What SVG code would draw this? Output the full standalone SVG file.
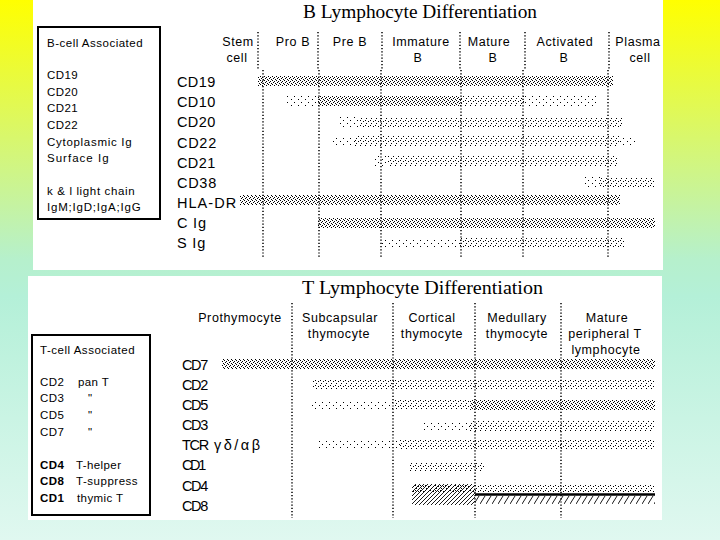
<svg xmlns="http://www.w3.org/2000/svg" width="720" height="540" viewBox="0 0 720 540">
<defs>
<linearGradient id="bg" x1="0" y1="0" x2="0" y2="1">
<stop offset="0" stop-color="#ffff00"/>
<stop offset="0.48" stop-color="#b6f0cc"/>
<stop offset="0.55" stop-color="#b4f0d8"/>
<stop offset="1" stop-color="#e0f8f0"/>
</linearGradient>
<pattern id="dense" width="4" height="4" patternUnits="userSpaceOnUse">
<rect x="0" y="0" width="1" height="1"/><rect x="2" y="1" width="1" height="1"/><rect x="1" y="2" width="1" height="1"/><rect x="3" y="3" width="1" height="1"/>
</pattern>
<pattern id="medium" width="5" height="5" patternUnits="userSpaceOnUse">
<rect x="0" y="0" width="1" height="1"/><rect x="3" y="1" width="1" height="1"/><rect x="1" y="3" width="1" height="1"/>
</pattern>
<pattern id="sparse" width="7" height="6" patternUnits="userSpaceOnUse">
<rect x="0" y="0" width="1" height="1"/><rect x="4" y="3" width="1" height="1"/>
</pattern>
<pattern id="hatch" width="4" height="4" patternUnits="userSpaceOnUse">
<path d="M0,4 L4,0" stroke="#000" stroke-width="0.9"/>
</pattern>
<pattern id="ticks" width="6" height="8" patternUnits="userSpaceOnUse">
<path d="M0,8 L5,0" stroke="#000" stroke-width="0.9"/>
</pattern>
<style>
.title{font-family:"Liberation Serif","Times New Roman",serif;font-size:18px;fill:#000}
.hd{font-family:"Liberation Sans",Arial,sans-serif;font-size:12.5px;letter-spacing:0.6px;fill:#000;text-anchor:middle}
.row{font-family:"Liberation Sans",Arial,sans-serif;font-size:14.5px;letter-spacing:0.8px;fill:#000}
.greek{letter-spacing:2.5px}
.lg{font-family:"Liberation Sans",Arial,sans-serif;font-size:11.5px;letter-spacing:0.4px;fill:#000}
.lgb{font-family:"Liberation Sans",Arial,sans-serif;font-size:11.5px;letter-spacing:0.4px;fill:#000;font-weight:bold}
.box{fill:#fff;stroke:#000;stroke-width:2}
.div{stroke:#000;stroke-width:1.5;stroke-dasharray:1.2 2;fill:none}
.d{fill:url(#dense)}
.m{fill:url(#medium)}
.s{fill:url(#sparse)}
</style>
</defs>

<rect id="background" x="0" y="0" width="720" height="540" fill="url(#bg)"/>

<g id="b-panel">
<rect x="33" y="0" width="630" height="270" fill="#fff"/>
<text class="title" x="303" y="18" textLength="234" lengthAdjust="spacingAndGlyphs">B Lymphocyte Differentiation</text>

<g id="b-legend">
<rect class="box" x="38" y="27" width="122" height="192"/>
<text class="lg" x="47" y="47" textLength="96">B-cell Associated</text>
<text class="lg" x="47" y="79">CD19</text>
<text class="lg" x="47" y="96">CD20</text>
<text class="lg" x="47" y="112">CD21</text>
<text class="lg" x="47" y="129">CD22</text>
<text class="lg" x="47" y="146" textLength="85">Cytoplasmic Ig</text>
<text class="lg" x="47" y="162" textLength="62">Surface Ig</text>
<text class="lg" x="47" y="195" textLength="88">k &amp; l light chain</text>
<text class="lg" x="47" y="211" textLength="94">IgM;IgD;IgA;IgG</text>
</g>

<g id="b-headers">
<text class="hd" x="238" y="46">Stem</text>
<text class="hd" x="237" y="62">cell</text>
<text class="hd" x="293" y="46">Pro B</text>
<text class="hd" x="350" y="46">Pre B</text>
<text class="hd" x="421" y="46">Immature</text>
<text class="hd" x="418" y="62">B</text>
<text class="hd" x="489" y="46">Mature</text>
<text class="hd" x="493" y="62">B</text>
<text class="hd" x="565" y="46">Activated</text>
<text class="hd" x="564" y="62">B</text>
<text class="hd" x="638" y="46">Plasma</text>
<text class="hd" x="640" y="62">cell</text>
</g>

<g id="b-rows">
<text class="row" x="177" y="87" textLength="39">CD19</text>
<text class="row" x="177" y="107" textLength="39">CD10</text>
<text class="row" x="177" y="127" textLength="39">CD20</text>
<text class="row" x="177" y="148" textLength="40">CD22</text>
<text class="row" x="177" y="168" textLength="39">CD21</text>
<text class="row" x="177" y="188" textLength="40">CD38</text>
<text class="row" x="177" y="208" textLength="60">HLA-DR</text>
<text class="row" x="177" y="228">C Ig</text>
<text class="row" x="177" y="248">S Ig</text>
</g>

<g id="b-dividers">
<path class="div" d="M258,32 V70 M318,32 V70 M382,32 V70 M460,32 V70 M525,32 V70 M609,32 V70"/>
<path class="div" d="M263,70 V258 M319,70 V258 M381,70 V258 M461,70 V258 M523,70 V258 M608,70 V258"/>
</g>

<g id="b-bands">
<rect class="d" x="258" y="76" width="355" height="10"/>
<rect class="s" x="287" y="96" width="31" height="10"/>
<rect class="d" x="318" y="96" width="142" height="10"/>
<rect class="m" x="460" y="96" width="65" height="10"/>
<rect class="s" x="525" y="96" width="72" height="10"/>
<rect class="s" x="340" y="117" width="20" height="10"/>
<rect class="m" x="360" y="117" width="263" height="10"/>
<rect class="s" x="332" y="136" width="23" height="10"/>
<rect class="m" x="355" y="136" width="265" height="10"/>
<rect class="s" x="620" y="136" width="17" height="10"/>
<rect class="s" x="372" y="156" width="16" height="10"/>
<rect class="m" x="388" y="156" width="229" height="10"/>
<rect class="s" x="583" y="177" width="17" height="10"/>
<rect class="m" x="600" y="177" width="55" height="10"/>
<rect class="d" x="240" y="195" width="380" height="10"/>
<rect class="d" x="318" y="218" width="337" height="10"/>
<rect class="s" x="380" y="238" width="80" height="10"/>
<rect class="m" x="460" y="238" width="165" height="10"/>
</g>
</g>

<g id="t-panel">
<rect x="28" y="276" width="634" height="244" fill="#fff"/>
<text class="title" x="302" y="294" textLength="241" lengthAdjust="spacingAndGlyphs">T Lymphocyte Differentiation</text>

<g id="t-legend">
<rect class="box" x="32" y="335" width="118" height="180"/>
<text class="lg" x="40" y="354" textLength="95">T-cell Associated</text>
<text class="lg" x="40" y="386">CD2</text><text class="lg" x="78" y="386">pan T</text>
<text class="lg" x="40" y="402">CD3</text><text class="lg" x="88" y="402">"</text>
<text class="lg" x="40" y="419">CD5</text><text class="lg" x="88" y="419">"</text>
<text class="lg" x="40" y="436">CD7</text><text class="lg" x="88" y="436">"</text>
<text class="lgb" x="40" y="469">CD4</text><text class="lg" x="76" y="469">T-helper</text>
<text class="lgb" x="40" y="485">CD8</text><text class="lg" x="76" y="485" textLength="62">T-suppress</text>
<text class="lgb" x="40" y="502">CD1</text><text class="lg" x="77" y="502">thymic T</text>
</g>

<g id="t-headers">
<text class="hd" x="240" y="322">Prothymocyte</text>
<text class="hd" x="340" y="322">Subcapsular</text>
<text class="hd" x="339" y="338">thymocyte</text>
<text class="hd" x="432" y="322">Cortical</text>
<text class="hd" x="432" y="338">thymocyte</text>
<text class="hd" x="517" y="322">Medullary</text>
<text class="hd" x="517" y="338">thymocyte</text>
<text class="hd" x="607" y="322">Mature</text>
<text class="hd" x="605" y="338">peripheral T</text>
<text class="hd" x="606" y="354">lymphocyte</text>
</g>

<g id="t-rows">
<text class="row" x="182" y="370" textLength="27">CD7</text>
<text class="row" x="182" y="390" textLength="27">CD2</text>
<text class="row" x="182" y="410" textLength="27">CD5</text>
<text class="row" x="182" y="430" textLength="27">CD3</text>
<text class="row" x="182" y="450" textLength="28">TCR</text>
<text class="row greek" x="214" y="450">γδ/αβ</text>
<text class="row" x="182" y="470" textLength="25">CD1</text>
<text class="row" x="182" y="491" textLength="27">CD4</text>
<text class="row" x="182" y="511" textLength="27">CD8</text>
</g>

<g id="t-dividers">
<path class="div" d="M292,303 V518 M393,303 V518 M475,303 V518 M561,303 V518"/>
</g>

<g id="t-bands">
<rect class="d" x="222" y="359" width="433" height="10"/>
<rect class="m" x="312" y="380" width="343" height="10"/>
<rect class="s" x="312" y="400" width="83" height="10"/>
<rect class="m" x="395" y="400" width="75" height="10"/>
<rect class="d" x="470" y="400" width="185" height="10"/>
<rect class="s" x="422" y="421" width="48" height="10"/>
<rect class="m" x="470" y="421" width="185" height="10"/>
<rect class="s" x="318" y="440" width="82" height="10"/>
<rect class="m" x="400" y="440" width="255" height="10"/>
<rect class="m" x="410" y="462" width="75" height="9"/>
<rect class="m" x="412" y="484" width="243" height="9"/>
<rect fill="url(#hatch)" x="412" y="484" width="63" height="21"/>
<rect fill="url(#ticks)" x="475" y="496" width="180" height="8"/>
<line x1="475" y1="494.5" x2="655" y2="494.5" stroke="#000" stroke-width="2.5"/>
</g>
</g>
</svg>
